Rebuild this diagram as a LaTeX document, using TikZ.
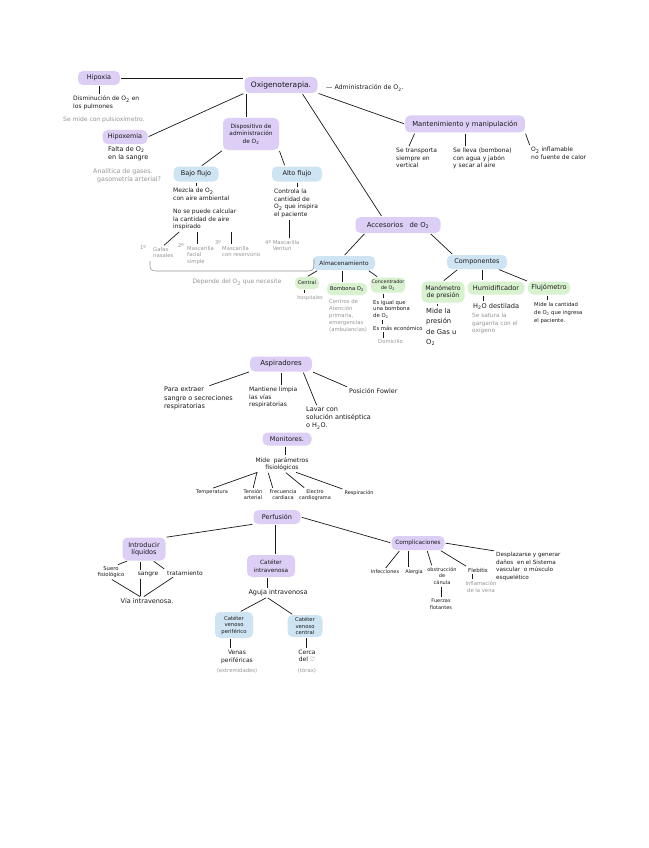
\documentclass[tikz,border=0pt]{standalone}
\usepackage{fontspec}
\setmainfont{DejaVu Sans}
\newfontfamily\djv{DejaVu Sans}
\newcommand\oxy{O\textsubscript{2}}
\definecolor{pfill}{RGB}{221,206,246}
\definecolor{bfill}{RGB}{207,228,243}
\definecolor{gfill}{RGB}{216,242,208}
\definecolor{gtext}{RGB}{150,150,150}
\definecolor{ink}{RGB}{25,25,25}
\begin{document}
\begin{tikzpicture}[x=1pt,y=-1pt,
  pill/.style={rounded corners=5pt, inner sep=1pt, align=center, text=ink, font=\fontsize{6.5}{7.5}\selectfont},
  pur/.style={pill, fill=pfill},
  blu/.style={pill, fill=bfill},
  grn/.style={pill, fill=gfill, font=\fontsize{5.3}{6.3}\selectfont},
  txt/.style={inner sep=1pt, align=left, text=ink, font=\fontsize{6}{7.5}\selectfont},
  ctx/.style={txt, align=center},
  gtx/.style={txt, text=gtext},
  gcx/.style={ctx, text=gtext},
  glist/.style={gtx, font=\fontsize{5.3}{6.5}\selectfont},
  ln/.style={draw=ink, line width=0.7pt, shorten <=1pt, shorten >=1pt}
]
\useasboundingbox (0,0) rectangle (648,848);
\fill[white] (0,0) rectangle (648,848);

% ---------- top section ----------
\node[pur, minimum width=42pt, minimum height=14pt] (hip) at (99,78) {Hipoxia};
\node[pur, minimum width=73pt, minimum height=16pt, font=\fontsize{7.5}{9}\selectfont] (oxi) at (281,85) {Oxigenoterapia.};
\node[txt, anchor=west, font=\fontsize{6.3}{7.5}\selectfont] (admin) at (325,88) {— Administración de \oxy.};
\node[txt, anchor=north west] (dism) at (72,95) {Disminución de \oxy{} en\\los pulmones};
\node[gtx, anchor=west] (smide) at (62,120) {Se mide con pulsioxímetro.};
\node[pur, minimum width=45pt, minimum height=14pt] (hipe) at (125,137) {Hipoxemia};
\node[txt, anchor=north west, font=\fontsize{6.5}{8}\selectfont] (falta) at (107,145) {Falta de \oxy\\en la sangre};
\node[gtx, anchor=north west, font=\fontsize{6.3}{8.5}\selectfont] (anal) at (92,167) {Analítica de gases.\\\ \ gasometría arterial?};

\node[pur, minimum width=56pt, minimum height=32pt, font=\fontsize{5.8}{7.5}\selectfont] (disp) at (251,134) {Dispositivo de\\administración\\de \oxy};
\node[pur, minimum width=120pt, minimum height=17pt, font=\fontsize{6.8}{8}\selectfont] (mant) at (465,124) {Mantenimiento y manipulación};

\node[txt, anchor=north west] (trans) at (395,147) {Se transporta\\siempre en\\vertical};
\node[txt, anchor=north west] (lleva) at (452,147) {Se lleva (bombona)\\con agua y jabón\\y secar al aire};
\node[txt, anchor=north west] (infl) at (530,146) {\oxy{} inflamable\\no fuente de calor};

\node[blu, minimum width=45pt, minimum height=15pt] (bajo) at (196,174) {Bajo flujo};
\node[blu, minimum width=50pt, minimum height=15pt] (alto) at (297,174) {Alto flujo};
\node[txt, anchor=north west] (mezcla) at (172,187) {Mezcla de \oxy\\con aire ambiental};
\node[txt, anchor=north west] (nose) at (172,208) {No se puede calcular\\la cantidad de aire\\inspirado};
\node[txt, anchor=north west] (contr) at (273,188) {Controla la\\cantidad de\\\oxy{} que inspira\\el paciente};

\node[glist] (n1) at (143,248) {1º};
\node[glist, anchor=north west] (g1) at (152,246) {Gafas\\nasales};
\node[glist] (n2) at (181,246) {2º};
\node[glist, anchor=north west] (g2) at (186,245) {Mascarilla\\facial\\simple};
\node[glist] (n3) at (218,243) {3º};
\node[glist, anchor=north west] (g3) at (221,245) {Mascarilla\\con reservorio};
\node[glist, anchor=north west] (g4) at (264,239) {4º Mascarilla\\\phantom{4º }Venturi};
\node[gcx] (dep) at (237,282) {Depende del \oxy{} que necesite};

% ---------- accesorios ----------
\node[pur, minimum width=85pt, minimum height=16pt, font=\fontsize{6.8}{8}\selectfont] (acc) at (398,225) {Accesorios \ \ de \oxy};
\node[blu, minimum width=62pt, minimum height=14pt, font=\fontsize{5.8}{7}\selectfont] (alm) at (344,263) {Almacenamiento};
\node[blu, minimum width=60pt, minimum height=14pt] (compo) at (477,262) {Componentes};

\node[grn, minimum width=24pt, minimum height=12pt, font=\fontsize{5}{6}\selectfont] (cen) at (307,283) {Central};
\node[grn, minimum width=40pt, minimum height=12pt] (bomb) at (347,289) {Bombona \oxy};
\node[grn, minimum width=34pt, minimum height=15pt, font=\fontsize{4.8}{5.8}\selectfont] (conc) at (388,285) {Concentrador\\de \oxy};
\node[grn, minimum width=43pt, minimum height=21pt, font=\fontsize{6.2}{7}\selectfont] (mano) at (443,292) {Manómetro\\de presión};
\node[grn, minimum width=57pt, minimum height=13pt, font=\fontsize{6.6}{8}\selectfont] (humi) at (496,288) {Humidificador};
\node[grn, minimum width=42pt, minimum height=13pt, font=\fontsize{6.6}{8}\selectfont] (fluj) at (549,288) {Flujómetro};

\node[gcx, font=\fontsize{5}{6}\selectfont] (hosp) at (310,298) {hospitales};
\node[gtx, anchor=north west, font=\fontsize{5.3}{7}\selectfont] (cent) at (328,298) {Centros de\\Atención\\primaria,\\emergencias\\(ambulancias)};
\node[txt, anchor=north west, font=\fontsize{5.3}{6.5}\selectfont] (igual) at (372,299) {Es igual que\\una bombona\\de \oxy};
\node[txt, anchor=west, font=\fontsize{5.3}{6.5}\selectfont] (econ) at (372,328) {Es más económico};
\node[gtx, anchor=west, font=\fontsize{5.3}{6.5}\selectfont] (domi) at (377,342) {Domicilio};
\node[txt, anchor=north west, font=\fontsize{6.8}{10.5}\selectfont] (mide1) at (425,307) {Mide la\\presión\\de Gas u\\\oxy};
\node[txt, anchor=west, font=\fontsize{6.6}{8}\selectfont] (h2o) at (472,306) {H\textsubscript{2}O destilada};
\node[gtx, anchor=north west, font=\fontsize{5.8}{7.5}\selectfont] (satura) at (471,312) {Se satura la\\garganta con el\\oxígeno};
\node[txt, anchor=north west, font=\fontsize{5.3}{8}\selectfont] (mide2) at (533,301) {Mide la cantidad\\de \oxy{} que ingresa\\el paciente.};

% ---------- aspiradores ----------
\node[pur, minimum width=62pt, minimum height=15pt, font=\fontsize{7}{8}\selectfont] (asp) at (281,364) {Aspiradores};
\node[txt, anchor=north west, font=\fontsize{6.5}{8.5}\selectfont] (para) at (163,386) {Para extraer\\sangre o secreciones\\respiratorias};
\node[txt, anchor=north west] (mantiene) at (248,386) {Mantiene limpia\\las vías\\respiratorias};
\node[txt, anchor=north west, font=\fontsize{6.5}{8}\selectfont] (lavar) at (305,406) {Lavar con\\solución antiséptica\\o H\textsubscript{2}O.};
\node[txt, anchor=west, font=\fontsize{6.3}{8}\selectfont] (fowler) at (348,391) {Posición Fowler};

% ---------- monitores ----------
\node[pur, minimum width=49pt, minimum height=13pt] (mon) at (287,439) {Monitores.};
\node[ctx] (mide3) at (282,464) {Mide \ parámetros\\fisiológicos};
\node[ctx, font=\fontsize{5}{6}\selectfont] (temp) at (212,492) {Temperatura};
\node[ctx, font=\fontsize{5}{6}\selectfont] (tens) at (253,495) {Tensión\\arterial};
\node[ctx, font=\fontsize{5}{6}\selectfont] (frec) at (283,495) {Frecuencia\\cardiaca};
\node[ctx, font=\fontsize{5}{6}\selectfont] (elec) at (315,495) {Electro\\cardiograma};
\node[ctx, font=\fontsize{5}{6}\selectfont] (resp) at (359,493) {Respiración};

% ---------- perfusion ----------
\node[pur, minimum width=47pt, minimum height=14pt] (perf) at (277,517) {Perfusión};
\node[pur, minimum width=43pt, minimum height=23pt] (intro) at (144,549) {Introducir\\líquidos};
\node[pur, minimum width=48pt, minimum height=22pt, font=\fontsize{5.8}{7.5}\selectfont] (cat) at (271,566) {Catéter\\intravenosa};
\node[pur, minimum width=53pt, minimum height=14pt, font=\fontsize{5.8}{7}\selectfont] (comp) at (418,543) {Complicaciones};

\node[ctx, font=\fontsize{5.3}{6.5}\selectfont] (suero) at (111,572) {Suero\\fisiológico};
\node[ctx] (sangre) at (148,574) {sangre};
\node[ctx] (trat) at (185,573) {tratamiento};
\node[ctx, font=\fontsize{6.5}{8}\selectfont] (via) at (147,601) {Vía intravenosa.};
\node[ctx, font=\fontsize{6.5}{8}\selectfont] (aguja) at (278,593) {Aguja intravenosa};

\node[blu, minimum width=38pt, minimum height=26pt, font=\fontsize{5.3}{6.5}\selectfont] (cvp) at (234,625) {Catéter\\venoso\\periférico};
\node[blu, minimum width=35pt, minimum height=22pt, font=\fontsize{5.3}{6.5}\selectfont] (cvc) at (305,626) {Catéter\\venoso\\central};
\node[ctx] (venas) at (237,657) {Venas\\periféricas};
\node[gcx, font=\fontsize{5.3}{6.5}\selectfont] (extr) at (237,671) {(extremidades)};
\node[ctx] (cerca) at (307,656) {Cerca\\del {\djv ♡}};
\node[gcx, font=\fontsize{5.3}{6.5}\selectfont] (torax) at (307,671) {(tórax)};

\node[ctx, font=\fontsize{5}{6}\selectfont] (inf) at (385,572) {Infecciones};
\node[ctx, font=\fontsize{5}{6}\selectfont] (alerg) at (414,572) {Alergia};
\node[ctx, font=\fontsize{5}{6.5}\selectfont] (obst) at (442,576) {obstrucción\\de\\cánula};
\node[ctx, font=\fontsize{5}{6.5}\selectfont] (fuerz) at (441,604) {Fuerzas\\flotantes};
\node[ctx, font=\fontsize{5.5}{6.5}\selectfont] (fleb) at (478,570) {Flebitis};
\node[gcx, font=\fontsize{5.3}{6.5}\selectfont] (inflam) at (481,587) {Inflamación\\de la vena};
\node[txt, anchor=north west, font=\fontsize{5.7}{7.5}\selectfont] (desp) at (495,551) {Desplazarse y generar\\daños \ en el Sistema\\vascular \ o músculo\\esquelético};

% ---------- connectors ----------
\draw[ln] (hip.east) -- (hip.east -| oxi.west);
\draw[ln] (hip.south) -- (hip.south |- dism.north);
\draw[ln] (hipe.east) -- (oxi.south west);
\draw[ln] ([xshift=-5pt]disp.north |- oxi.south) -- ([xshift=-5pt]disp.north);
\draw[ln] ([xshift=21pt]oxi.south) -- ([xshift=-16pt]acc.north);
\draw[ln] (oxi.south east) -- (mant.west);
\draw[ln] (disp.south west) -- ([xshift=5pt]bajo.north);
\draw[ln] (disp.south east) -- ([xshift=-12pt]alto.north);
\draw[ln] (bajo.south) -- (bajo.south |- mezcla.north);
\draw[ln] (alto.south) -- (alto.south |- contr.north);
\draw[ln] ([xshift=8pt]nose.south west) -- (g1.north);
\draw[ln] ([xshift=-3pt]g2.north) -- ([xshift=-3pt]g2.north |- nose.south);
\draw[ln] ([xshift=-10pt]g3.north) -- ([xshift=-10pt]g3.north |- nose.south);
\draw[ln] ([xshift=7pt]g4.north) -- ([xshift=7pt]g4.north |- contr.south);
\draw[draw=gtext, line width=0.6pt] (150,261) .. controls (150,271) .. (160,271) -- (305,271) .. controls (314,271) .. (314,259);

\draw[ln] ([xshift=-50pt]mant.south) -- ([xshift=-8pt]trans.north);
\draw[ln] (mant.south) -- (mant.south |- lleva.north);
\draw[ln] (mant.south east) -- (infl.north west);

\draw[ln] ([xshift=-33pt]acc.south) -- (alm.north);
\draw[ln] ([xshift=32pt]acc.south) -- ([xshift=-24pt]compo.north);
\draw[ln] ([xshift=-26pt]alm.south) -- (cen.north);
\draw[ln] ([xshift=-2pt]alm.south) -- ([xshift=-2pt]alm.south |- bomb.north);
\draw[ln] ([xshift=24pt]alm.south) -- ([xshift=-10pt]conc.north);
\draw[ln] ([xshift=-3pt]cen.south) -- ([xshift=-3pt]cen.south |- hosp.north);
\draw[ln] ([xshift=-5pt]conc.south) -- ([xshift=-5pt]conc.south |- igual.north);
\draw[ln] ([xshift=10pt]econ.north west |- igual.south) -- ([xshift=10pt]econ.north west);
\draw[ln] ([xshift=6pt]domi.north west |- econ.south) -- ([xshift=6pt]domi.north west);
\draw[ln] ([xshift=-19pt]compo.south) -- (mano.north);
\draw[ln] ([xshift=5pt]compo.south) -- ([xshift=5pt]compo.south |- humi.north);
\draw[ln] ([xshift=21pt]compo.south) -- (fluj.north west);
\draw[ln] ([xshift=-6pt]mano.south) -- ([xshift=-6pt]mano.south |- mide1.north);
\draw[ln] ([xshift=-13pt]humi.south) -- ([xshift=-13pt]humi.south |- h2o.north);
\draw[ln] ([xshift=-2pt]fluj.south) -- ([xshift=-2pt]fluj.south |- mide2.north);

\draw[ln] (asp.south west) -- ([xshift=10pt]para.north);
\draw[ln] (asp.south) -- (asp.south |- mantiene.north);
\draw[ln] ([xshift=22pt]asp.south) -- ([xshift=12pt]lavar.north west);
\draw[ln] (asp.south east) -- (fowler.north west);

\draw[ln] ([xshift=-2pt]mon.south) -- ([xshift=-2pt]mon.south |- mide3.north);
\draw[ln] ([xshift=4pt]mide3.south west) -- (temp.north);
\draw[ln] ([xshift=-25pt]mide3.south) -- (tens.north);
\draw[ln] ([xshift=-14pt]mide3.south) -- ([xshift=-10pt]frec.north);
\draw[ln] ([xshift=3pt]mide3.south) -- ([xshift=-10pt]elec.north);
\draw[ln] ([xshift=13pt]mide3.south) -- (resp.north west);

\draw[ln] (perf.south west) -- (intro.north east);
\draw[ln] ([xshift=-2pt]perf.south) -- ([xshift=-2pt]perf.south |- cat.north);
\draw[ln] (perf.east) -- (comp.west);
\draw[ln] ([xshift=-16pt]intro.south) -- ([xshift=6pt]suero.north);
\draw[ln] ([xshift=-4pt]intro.south) -- ([xshift=-4pt]intro.south |- sangre.north);
\draw[ln] ([xshift=9pt]intro.south) -- ([xshift=-20pt]trat.north);
\draw[ln] (suero.south) -- ([xshift=-6pt]via.north);
\draw[ln] ([xshift=-8pt]sangre.south) -- ([xshift=-8pt]sangre.south |- via.north);
\draw[ln] ([xshift=-11pt]trat.south) -- ([xshift=-4pt]via.north);
\draw[ln] ([xshift=-4pt]cat.south) -- ([xshift=-4pt]cat.south |- aguja.north);
\draw[ln] ([xshift=-11pt]aguja.south) -- ([xshift=6pt]cvp.north);
\draw[ln] ([xshift=-11pt]aguja.south) -- ([xshift=-12pt]cvc.north);
\draw[ln] ([xshift=-4pt]cvp.south) -- ([xshift=-4pt]cvp.south |- venas.north);
\draw[ln] ([xshift=1pt]cvc.south) -- ([xshift=1pt]cvc.south |- cerca.north);

\draw[ln] ([xshift=-18pt]comp.south) -- (inf.north);
\draw[ln] ([xshift=-10pt]comp.south) -- ([xshift=-10pt]comp.south |- alerg.north);
\draw[ln] ([xshift=9pt]comp.south) -- ([xshift=-10pt]obst.north);
\draw[ln] ([xshift=-1pt]obst.south) -- ([xshift=-1pt]obst.south |- fuerz.north);
\draw[ln] ([xshift=22pt]comp.south) -- (fleb.north west);
\draw[ln] ([xshift=-6pt]fleb.south) -- ([xshift=-6pt]fleb.south |- inflam.north);
\draw[ln] (comp.east) -- (desp.north west);
\end{tikzpicture}
\end{document}
